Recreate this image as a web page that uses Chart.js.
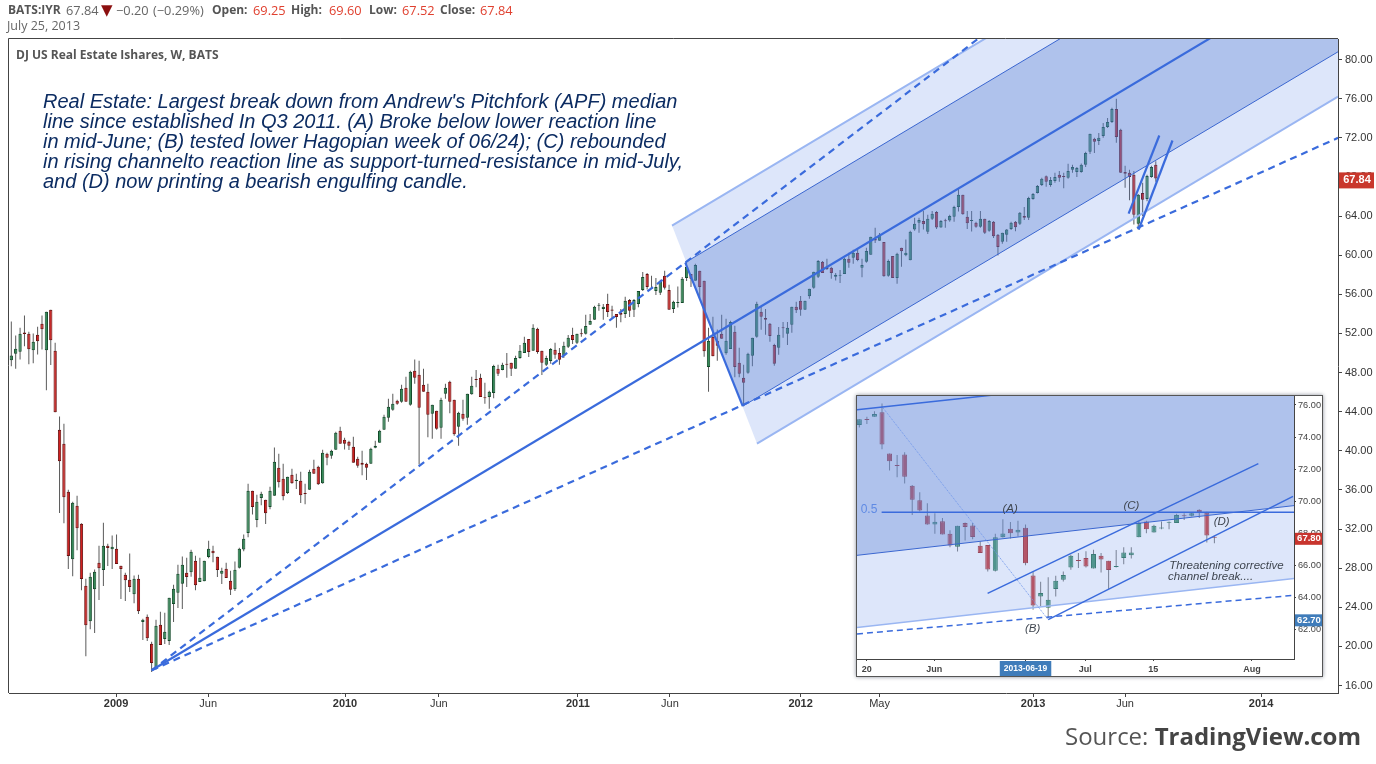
<!DOCTYPE html>
<html>
<head>
<meta charset="utf-8">
<title>BATS:IYR</title>
<script src="https://cdn.jsdelivr.net/npm/chart.js@4"></script>
<style>
  html, body { margin: 0; padding: 0; background: #fff; width: 1376px; height: 764px; overflow: hidden; }
  canvas { position: absolute; display: block; }
  #mainChart { left: 0; top: 0; }
  #insetChart { left: 857px; top: 396px; outline: 1.5px solid #555; box-shadow: 0 0 4px 1px #8a8f9a; background: #fff; }
  .txt { position: absolute; white-space: pre; }
  #quote { left: 0; top: 2px; font: 12.8px/16px "Open Sans", sans-serif; color: #666; }
  #quote span { position: absolute; top: 0; }
  #quote b { position: absolute; top: 0; font-size: 12px; color: #555; }
  #quote i { position: absolute; top: 0; font-style: normal; color: #e0402f; }
  #quoteDate { left: 7px; top: 18px; font: 12.5px/16px "Open Sans", sans-serif; color: #666; }
  #title { left: 16px; top: 47px; font: bold 12px/16px "Open Sans", sans-serif; color: #555; }
  #note { left: 43px; top: 91px; font: italic 20px/20px "Liberation Sans", sans-serif; color: #0c2c62; }
  #source { left: 1065px; top: 718px; font: 24px/36px "Open Sans", sans-serif; color: #555; }
  #source b { color: #444; }
</style>
</head>
<body>
<canvas id="mainChart" width="1376" height="764"></canvas>
<div class="txt" id="quote"><b style="left:8px">BATS:IYR</b><span style="left:66px">67.84</span><span style="left:101px;color:#8b0f0f;font:15px/16px 'DejaVu Sans'">&#9660;</span><span style="left:116px">&#8722;0.20</span><span style="left:153px">(&#8722;0.29%)</span><b style="left:212px">Open:</b><i style="left:253px">69.25</i><b style="left:291px">High:</b><i style="left:329px">69.60</i><b style="left:369px">Low:</b><i style="left:402px">67.52</i><b style="left:440px">Close:</b><i style="left:480px">67.84</i></div>
<div class="txt" id="quoteDate">July 25, 2013</div>
<div class="txt" id="title">DJ US Real Estate Ishares, W, BATS</div>
<div class="txt" id="note">Real Estate: Largest break down from Andrew's Pitchfork (APF) median
line since established In Q3 2011. (A) Broke below lower reaction line
in mid-June; (B) tested lower Hagopian week of 06/24); (C) rebounded
in rising channelto reaction line as support-turned-resistance in mid-July,
and (D) now printing a bearish engulfing candle.</div>
<canvas id="insetChart" width="465" height="280"></canvas>
<div class="txt" id="source">Source: <b>TradingView.com</b></div>
<script>
// weekly candles
const opens = [
  49.27,49.92,50.12,52.10,51.96,50.29,51.86,52.98,50.29,54.41,
  50.22,42.14,40.71,35.81,28.92,34.37,32.53,26.20,22.58,25.85,
  28.55,27.80,30.29,29.94,29.98,28.24,27.32,26.81,25.34,26.91,
  22.48,23.03,20.27,17.88,22.21,20.74,20.54,24.32,25.48,26.40,
  27.52,27.59,28.75,26.57,26.67,29.13,29.77,29.16,27.42,27.93,
  26.71,25.85,28.04,29.91,31.58,35.91,32.91,35.16,34.99,34.24,
  35.40,38.26,37.13,35.67,37.54,36.90,36.93,35.63,36.01,38.16,
  38.36,36.69,39.69,39.49,40.10,42.04,41.12,40.92,40.41,39.18,
  38.77,38.67,38.67,40.30,40.81,42.14,43.37,44.19,45.11,45.01,
  46.44,44.70,48.18,47.77,46.75,46.03,43.78,44.09,42.35,45.83,
  47.05,45.21,42.45,43.78,43.37,45.79,47.35,47.46,45.41,45.51,
  45.92,48.38,48.27,48.89,48.99,48.38,49.50,50.01,51.44,50.22,
  52.47,50.22,48.79,49.19,50.32,50.01,49.71,50.63,51.85,51.04,
  51.96,51.96,52.88,53.39,54.82,54.51,55.02,54.44,54.00,54.10,
  54.00,55.43,54.41,55.02,56.45,58.09,56.66,56.35,56.15,57.89,
  56.45,54.51,55.12,55.12,57.68,58.09,57.38,58.40,57.38,48.58,
  51.65,51.24,51.96,49.98,50.42,52.16,48.99,47.46,47.97,49.71,
  51.65,54.21,53.59,52.98,50.83,50.53,52.61,51.96,52.88,54.72,
  55.33,54.41,55.81,56.66,57.79,59.32,58.81,58.71,57.79,57.89,
  58.09,59.63,59.73,60.24,58.71,59.32,60.04,61.67,61.47,61.36,
  57.89,59.93,57.68,60.75,60.00,59.49,62.63,63.31,63.51,62.39,
  63.72,64.43,62.83,63.55,63.55,63.92,64.94,66.17,63.92,63.51,
  63.31,62.90,63.72,62.49,63.41,62.08,61.37,62.08,62.69,63.41,
  63.21,64.02,63.82,65.76,66.37,67.19,68.08,67.19,67.60,68.22,
  68.11,67.91,68.73,68.52,68.52,69.24,70.57,71.90,71.69,72.20,
  73.12,73.63,74.96,72.82,68.52,68.42,68.22,63.21,66.37,65.76,
  68.01,69.25
];
const highs = [
  53.22,51.79,52.57,53.83,52.16,51.99,52.68,53.83,54.21,54.41,
  51.04,43.51,42.76,36.01,34.78,35.40,32.60,26.91,27.52,27.87,
  30.29,32.64,30.49,31.34,31.44,28.24,27.52,29.50,27.25,27.32,
  22.82,23.26,20.47,22.72,23.54,23.43,24.97,26.30,28.34,29.19,
  29.06,29.88,29.26,29.06,28.75,30.80,30.29,29.16,28.04,28.55,
  27.73,28.68,30.08,31.44,36.62,35.91,35.50,35.80,34.99,36.32,
  40.34,39.69,38.67,37.34,38.16,37.65,37.85,36.62,38.05,39.08,
  38.46,40.10,39.79,40.10,41.94,42.45,41.33,41.02,41.43,39.38,
  40.00,38.77,40.30,41.02,42.14,43.68,45.31,45.83,45.21,46.75,
  47.56,48.18,49.34,49.20,48.38,46.85,44.70,44.09,45.42,46.85,
  47.15,45.21,43.98,45.21,45.83,47.56,48.27,47.87,46.95,46.13,
  48.79,48.79,48.99,50.01,48.99,49.71,50.83,51.65,51.44,52.94,
  52.57,50.22,49.71,50.52,51.04,50.52,51.14,51.85,52.57,51.96,
  52.47,53.90,54.00,54.82,55.12,55.02,56.05,54.82,54.00,54.51,
  55.74,55.53,55.53,56.35,58.29,58.19,57.89,57.68,57.48,58.40,
  56.97,55.33,56.79,57.78,59.21,58.09,59.12,58.40,57.38,52.57,
  53.70,52.40,53.90,53.49,53.29,52.78,50.53,48.79,50.02,51.55,
  55.23,54.72,54.51,53.08,50.94,52.67,53.18,53.18,54.72,55.23,
  55.84,55.33,56.56,58.30,59.52,59.42,59.63,58.81,58.19,58.50,
  59.73,60.24,60.55,60.65,59.63,60.75,61.88,62.80,62.28,61.36,
  59.56,59.93,60.24,60.75,61.60,62.49,63.82,63.82,64.53,64.13,
  64.53,64.53,63.61,63.72,64.13,65.05,66.78,66.17,64.53,64.53,
  63.41,64.53,63.72,63.61,63.51,62.18,62.29,62.69,63.41,63.51,
  64.43,64.94,65.97,66.37,67.19,67.91,68.15,68.01,68.42,68.62,
  68.42,69.34,69.24,69.03,69.37,70.57,72.41,72.00,72.51,73.53,
  74.04,75.07,75.99,72.92,69.14,68.73,68.62,66.27,67.40,68.22,
  69.14,69.60
];
const lows = [
  48.65,48.38,49.34,50.70,48.86,48.96,49.85,50.36,46.20,48.76,
  43.95,33.63,32.60,27.90,27.18,29.84,25.75,19.00,21.76,21.36,
  24.73,26.16,28.21,27.90,28.41,24.83,24.63,25.55,24.42,23.30,
  20.64,20.54,17.37,17.64,20.13,20.23,20.13,22.48,23.91,23.81,
  26.06,27.12,25.75,26.57,26.67,29.02,28.61,27.08,26.37,26.98,
  25.24,25.65,27.96,29.73,31.17,33.49,32.19,34.44,32.50,34.03,
  35.40,36.25,34.95,35.57,36.62,36.08,34.65,34.54,36.01,37.65,
  36.49,36.62,38.53,39.18,40.10,40.71,40.13,40.07,38.77,38.26,
  37.51,37.00,38.67,40.27,40.81,42.14,42.96,44.09,44.70,44.91,
  45.01,44.60,46.85,38.60,46.03,41.39,41.22,42.14,41.22,45.31,
  43.85,41.53,40.51,43.06,42.66,45.72,46.50,45.51,44.80,44.29,
  45.38,47.66,48.24,47.46,47.66,48.38,49.40,50.01,49.60,50.22,
  49.91,47.76,48.68,48.89,49.40,48.79,49.50,50.52,50.93,50.93,
  51.65,51.89,52.88,53.39,54.31,53.39,53.69,53.59,52.57,53.15,
  53.59,53.69,53.69,54.68,56.35,56.49,56.56,55.94,55.94,56.49,
  54.41,54.10,54.65,55.12,57.37,56.76,57.38,55.64,49.61,46.03,
  49.67,49.20,51.45,49.81,50.42,47.53,47.53,44.56,47.87,48.65,
  51.55,52.37,51.86,51.14,48.69,49.81,51.55,50.83,52.06,54.10,
  53.80,54.41,55.54,56.56,57.68,58.19,58.50,57.58,57.41,57.17,
  58.09,58.71,59.12,59.39,57.75,59.22,60.04,61.26,61.47,57.79,
  57.79,57.68,57.07,58.81,59.90,59.49,62.49,62.29,62.63,62.18,
  63.61,62.69,62.80,62.80,63.41,63.41,64.47,64.13,62.69,62.42,
  62.80,62.80,62.18,62.39,61.77,59.97,61.16,61.37,62.59,62.46,
  63.10,63.61,63.61,65.66,66.31,67.09,66.99,66.99,67.40,67.50,
  66.85,67.81,68.42,68.01,68.42,69.03,70.36,70.46,71.28,72.00,
  73.02,73.53,71.49,68.42,66.89,65.63,63.14,62.63,64.02,65.52,
  67.91,67.52
];
const closes = [
  49.74,50.43,51.96,51.93,50.39,51.14,51.21,52.44,54.21,51.31,
  43.95,38.94,35.26,29.23,34.68,32.09,26.88,22.17,27.12,27.63,
  28.00,30.29,30.05,30.18,28.41,27.90,26.77,26.06,26.91,23.60,
  22.72,20.84,18.29,22.11,20.13,21.49,24.97,25.89,27.42,28.34,
  27.08,29.67,26.26,27.01,28.75,29.98,29.53,27.80,27.73,26.98,
  25.79,27.83,29.98,31.00,35.91,34.24,34.78,35.60,33.62,35.91,
  38.87,36.79,35.36,37.34,36.69,37.03,35.46,35.57,37.85,37.65,
  36.59,39.79,39.28,40.00,41.84,40.71,40.71,40.51,38.77,38.46,
  38.57,38.26,40.20,40.51,42.04,43.47,44.50,44.80,44.80,46.34,
  45.01,48.07,47.46,44.39,46.03,43.68,44.70,42.25,45.21,46.44,
  45.01,41.70,43.88,43.27,45.83,46.64,47.25,45.51,45.38,46.03,
  48.68,47.87,48.79,48.79,48.38,49.50,50.22,51.04,50.11,52.57,
  50.11,48.99,49.50,50.42,49.81,49.30,50.73,51.55,51.34,51.96,
  51.92,52.77,53.28,54.72,54.92,54.72,54.20,54.31,53.69,53.90,
  55.33,54.31,55.43,56.35,57.78,56.76,56.56,56.76,57.37,56.66,
  54.41,55.23,55.19,57.58,58.81,57.58,59.01,56.76,50.19,51.24,
  49.67,50.73,51.45,51.24,53.18,48.58,47.87,46.95,49.91,51.55,
  55.03,53.70,53.39,51.75,48.89,51.86,52.54,52.57,54.72,54.38,
  54.41,55.33,56.56,58.30,59.42,58.19,58.60,58.19,57.99,57.99,
  59.63,59.22,60.24,59.52,59.01,60.44,61.88,61.50,62.08,57.85,
  59.42,57.68,60.14,60.41,60.24,62.39,63.21,63.61,63.17,63.72,
  64.23,62.83,63.51,63.48,64.02,64.94,66.17,64.19,63.27,63.61,
  62.90,63.72,62.29,63.51,61.94,60.85,62.29,62.63,63.31,62.87,
  64.33,63.82,65.86,66.27,67.09,67.81,67.50,67.70,68.01,67.91,
  68.01,68.62,69.03,68.93,69.24,70.46,72.41,71.59,72.00,73.12,
  73.63,74.96,72.10,68.42,68.32,68.01,64.13,66.17,65.66,68.11,
  69.03,67.84
];

const weekTicks = [24.9, 45.9, 77.1, 98.5, 130.2, 151.2, 181, 199, 234, 255, 286];
const weekTickLabels = ['2009', 'Jun', '2010', 'Jun', '2011', 'Jun', '2012', 'May', '2013', 'Jun', '2014'];
const priceTicks = [16, 20, 24, 28, 32, 36, 40, 44, 48, 52, 56, 60, 64, 68, 72, 76, 80];
const lastPrice = 67.84;
const lastPriceTagAt = 67.65;

// Andrew's Pitchfork anchors, week number and price
const outerWeeks = [151.67, 171.05, 303.55];
const outerUpperPrices = [63.03, 68.22, 103.7];
const outerLowerPrices = [63.03, 40.74, 76.22];
const innerWeeks = [154.7, 167.8, 303.55];
const innerUpperPrices = [59.25, 62.76, 99.11];
const innerLowerPrices = [59.25, 44.56, 80.8];
const medianWeeks = [33, 303.55];
const medianPrices = [17.55, 90];
const upperTineWeeks = [33, 230];
const upperTinePrices = [17.55, 85.05];
const lowerTineWeeks = [33, 303.55];
const lowerTinePrices = [17.55, 72];
const channelOneWeeks = [255.8, 262.8];
const channelOnePrices = [64.26, 72.24];
const channelTwoWeeks = [258.1, 265.8];
const channelTwoPrices = [62.63, 71.73];

// inset: daily candles
const insetOpens = [74.76,75.11,75.27,75.54,72.97,72.25,72.91,70.96,70.07,69.11,68.55,68.76,67.97,67.16,68.64,68.49,67.23,67.27,65.67,67.76,68.28,68.05,68.35,65.38,64.07,63.37,64.53,65.11,65.88,66.31,66.46,65.81,66.60,66.29,65.90,66.46,66.64,67.76,68.74,68.05,68.30,68.66,68.64,69.11,69.09,69.47,69.28,67.74];
const insetHighs = [75.11,75.27,75.61,76.10,72.97,72.89,73.05,71.02,70.56,69.88,69.26,68.95,68.20,68.47,68.68,68.64,67.49,67.27,67.97,68.88,68.70,68.78,68.55,65.63,64.98,65.27,65.36,65.63,66.66,66.77,66.89,66.98,66.77,66.29,66.96,67.14,67.14,68.74,68.78,68.53,68.74,68.74,69.22,69.26,69.30,69.51,69.34,67.85];
const insetLows = [74.59,74.82,75.27,73.24,71.91,71.50,71.10,69.15,69.36,68.53,67.97,67.93,67.14,66.87,67.56,67.64,66.77,65.63,65.63,67.74,67.68,67.81,66.02,63.24,63.45,62.72,64.07,65.00,65.73,65.84,65.88,65.81,65.56,64.53,65.88,66.08,66.44,67.76,68.01,68.05,68.26,68.26,68.64,68.84,69.05,68.95,67.43,67.39];
const insetCloses = [75.11,75.07,75.44,73.53,72.49,72.20,71.52,70.09,69.42,68.55,68.72,67.93,67.25,68.47,68.39,67.78,66.77,65.75,67.76,67.99,68.01,68.22,66.13,63.51,64.28,63.86,65.05,65.40,66.60,66.27,65.94,66.71,66.37,65.71,65.96,66.81,66.81,68.64,68.26,68.47,68.34,68.72,69.15,69.07,69.26,69.32,67.87,67.72];

const insetDayTicks = [1.97, 10.92, 23, 30.9, 39.9, 52.98];
const insetDayTickLabels = ['20', 'Jun', '2013-06-19', 'Jul', '15', 'Aug'];
const insetPriceTicks = [62, 64, 66, 68, 70, 72, 74, 76];

const insetBandDays = [0.69, 58.54];
const insetReactionPrices = [66.63, 69.73];
const insetOuterPrices = [62.13, 65.19];
const insetMedianDays = [0.69, 18.72];
const insetMedianPrices = [75.71, 76.62];
const insetTinePrices = [61.73, 64.14];
const insetChannelOneDays = [17.98, 53.82];
const insetChannelOnePrices = [64.26, 72.35];
const insetChannelTwoDays = [26, 58.41];
const insetChannelTwoPrices = [62.62, 70.3];
const insetDropDays = [4, 26];
const insetDropPrices = [75.9, 62.62];
const insetHalfDays = [3.95, 58.54];
const insetHalfPrices = [69.32, 69.32];

const insetNotes = ['0.5', '(A)', '(B)', '(C)', '(D)', 'Threatening corrective', 'channel break....'];
const insetNoteDays = [2.28, 20.97, 23.93, 37.02, 48.97, 49.6, 47.5];
const insetNotePrices = [69.47, 69.53, 62.08, 69.73, 68.7, 66.0, 65.3];
const insetTags = ['67.80', '62.70'];
const insetTagPrices = [67.66, 62.58];
const insetTagColors = ['#c8352e', '#3f7cba'];

const AXIS_COLOR = '#444';
const LINE_BLUE = '#3a6bdc';
const LIGHT_BLUE = '#9ab6f2';
const OUTER_FILL = 'rgba(85, 130, 230, 0.2)';
const INNER_FILL = 'rgba(90, 130, 210, 0.35)';
const MAIN_PALETTE = { up: '#348a58', upEdge: '#134a2a', down: '#d0201f', downEdge: '#6a1010', wick: '#5a5a5a' };
const INSET_PALETTE = { up: '#4f9a78', upEdge: '#367a5c', down: '#cc4a48', downEdge: '#a83a3a', wick: '#808080' };

function points(xs, ys) {
  return xs.map((x, i) => ({ x, y: ys[i] }));
}

function isDateTick(ctx) {
  return (insetDayTickLabels[ctx.index] || '').length > 5;
}

function candleSets(o, h, l, c, width, palette) {
  const isUp = o.map((value, i) => c[i] >= value);
  return [
    {
      type: 'bar',
      order: 100,
      grouped: false,
      data: o.map((value, i) => ({ x: i + 1, y: [l[i], h[i]] })),
      backgroundColor: palette.wick,
      barThickness: 1,
      borderWidth: 0,
      inflateAmount: 0,
    },
    {
      type: 'bar',
      order: 90,
      grouped: false,
      data: o.map((value, i) => ({ x: i + 1, y: [value, c[i]] })),
      backgroundColor: isUp.map((up) => (up ? palette.up : palette.down)),
      borderColor: isUp.map((up) => (up ? palette.upEdge : palette.downEdge)),
      borderWidth: 1,
      borderSkipped: false,
      barThickness: width,
      minBarLength: 1,
      inflateAmount: 0,
    },
  ];
}

function lineSet(data, color, width, order, extra) {
  return {
    type: 'line',
    data,
    order,
    borderColor: color,
    borderWidth: width,
    pointRadius: 0,
    tension: 0,
    fill: false,
    ...extra,
  };
}

const framePlugin = {
  id: 'frame',
  afterDraw(chart) {
    const { ctx, chartArea, scales } = chart;
    ctx.save();
    ctx.strokeStyle = AXIS_COLOR;
    ctx.lineWidth = 1;
    ctx.beginPath();
    ctx.moveTo(chartArea.left - 0.5, chartArea.bottom);
    ctx.lineTo(chartArea.left - 0.5, chartArea.top - 0.5);
    ctx.lineTo(chartArea.right, chartArea.top - 0.5);
    ctx.stroke();

    const y = scales.y.getPixelForValue(lastPriceTagAt);
    ctx.fillStyle = '#c9372c';
    ctx.fillRect(chartArea.right + 1, y - 8, 35, 16);
    ctx.fillStyle = '#fff';
    ctx.font = 'bold 11px "Liberation Sans", sans-serif';
    ctx.textAlign = 'center';
    ctx.textBaseline = 'middle';
    ctx.fillText(lastPrice.toFixed(2), chartArea.right + 19, y);
    ctx.restore();
  },
};

const insetNotesPlugin = {
  id: 'insetNotes',
  afterDatasetsDraw(chart) {
    const { ctx, scales } = chart;
    ctx.save();
    ctx.textAlign = 'center';
    ctx.textBaseline = 'middle';
    insetNotes.forEach((note, i) => {
      const isFib = note === '0.5';
      ctx.fillStyle = isFib ? '#5f8ae4' : '#3f4650';
      ctx.font = isFib ? '12px "Liberation Sans", sans-serif' : 'italic 11.5px "Liberation Sans", sans-serif';
      ctx.fillText(note, scales.x.getPixelForValue(insetNoteDays[i]), scales.y.getPixelForValue(insetNotePrices[i]));
    });
    ctx.restore();
  },
  afterDraw(chart) {
    const { ctx, chartArea, scales, width } = chart;
    ctx.save();
    ctx.textAlign = 'center';
    ctx.textBaseline = 'middle';
    ctx.font = 'bold 9.5px "Liberation Sans", sans-serif';
    insetTags.forEach((tag, i) => {
      const y = scales.y.getPixelForValue(insetTagPrices[i]);
      ctx.fillStyle = insetTagColors[i];
      ctx.fillRect(chartArea.right + 1, y - 6, width - chartArea.right - 1, 12);
      ctx.fillStyle = '#fff';
      ctx.fillText(tag, chartArea.right + 15, y);
    });
    ctx.restore();
  },
};

function renderMain() {
  const datasets = [
    ...candleSets(opens, highs, lows, closes, 3.3, MAIN_PALETTE),
    lineSet(points(outerWeeks, outerUpperPrices), LIGHT_BLUE, 2, 80, { fill: '+1', backgroundColor: OUTER_FILL }),
    lineSet(points(outerWeeks, outerLowerPrices), LIGHT_BLUE, 0, 81),
    lineSet(points(innerWeeks, innerUpperPrices), '#3a66d0', 1, 70, { fill: '+1', backgroundColor: INNER_FILL }),
    lineSet(points(innerWeeks, innerLowerPrices), LINE_BLUE, 0, 71),
    lineSet(points(outerWeeks.slice(1), outerLowerPrices.slice(1)), LIGHT_BLUE, 2, 60),
    lineSet(points(innerWeeks.slice(1), innerLowerPrices.slice(1)), '#3a66d0', 1, 50),
    lineSet(points(innerWeeks.slice(0, 2), innerLowerPrices.slice(0, 2)), LINE_BLUE, 2.2, 40),
    lineSet(points(medianWeeks, medianPrices), LINE_BLUE, 2.2, 30),
    lineSet(points(upperTineWeeks, upperTinePrices), LINE_BLUE, 2.2, 30, { borderDash: [7, 5] }),
    lineSet(points(lowerTineWeeks, lowerTinePrices), LINE_BLUE, 2.2, 30, { borderDash: [7, 5] }),
    lineSet(points(channelOneWeeks, channelOnePrices), LINE_BLUE, 2.2, 20),
    lineSet(points(channelTwoWeeks, channelTwoPrices), LINE_BLUE, 2.2, 20),
  ];

  new Chart(document.getElementById('mainChart'), {
    type: 'bar',
    data: { datasets },
    plugins: [framePlugin],
    options: {
      responsive: false,
      animation: false,
      layout: { padding: { left: 9, top: 39, right: 0, bottom: 0 } },
      plugins: { legend: { display: false }, tooltip: { enabled: false } },
      scales: {
        x: {
          type: 'linear',
          min: 0.475,
          max: 303.55,
          offset: false,
          afterFit(scale) { scale.height = 71; },
          afterBuildTicks(axis) { axis.ticks = weekTicks.map((value) => ({ value })); },
          grid: { drawOnChartArea: false, offset: false, tickLength: 4, color: AXIS_COLOR },
          border: { color: AXIS_COLOR },
          ticks: {
            autoSkip: false,
            maxRotation: 0,
            padding: 0,
            color: '#333',
            font: (ctx) => ({
              family: '"Liberation Sans", sans-serif',
              size: 11,
              weight: /^\d/.test(weekTickLabels[ctx.index]) ? 'bold' : 'normal',
            }),
            callback: (value, index) => weekTickLabels[index],
          },
        },
        y: {
          position: 'right',
          min: 15.23,
          max: 82.11,
          afterFit(scale) { scale.width = 38; },
          afterBuildTicks(axis) { axis.ticks = priceTicks.map((value) => ({ value })); },
          grid: { drawOnChartArea: false, tickLength: 4, color: AXIS_COLOR },
          border: { color: AXIS_COLOR },
          ticks: {
            padding: 3,
            color: '#333',
            font: { family: '"Liberation Sans", sans-serif', size: 11 },
            callback: (value) => value.toFixed(2),
          },
        },
      },
    },
  });
}

function renderInset() {
  const insetTop = 76.56;
  const datasets = [
    ...candleSets(insetOpens, insetHighs, insetLows, insetCloses, 5, INSET_PALETTE),
    lineSet(points(insetBandDays, insetOuterPrices), LIGHT_BLUE, 1.5, 80, { fill: { value: insetTop }, backgroundColor: OUTER_FILL }),
    lineSet(points(insetBandDays, insetReactionPrices), '#3a66d0', 1, 70, { fill: { value: insetTop }, backgroundColor: INNER_FILL }),
    lineSet(points(insetMedianDays, insetMedianPrices), LINE_BLUE, 1.5, 30),
    lineSet(points(insetBandDays, insetTinePrices), LINE_BLUE, 1.5, 30, { borderDash: [6, 4] }),
    lineSet(points(insetHalfDays, insetHalfPrices), LINE_BLUE, 1.5, 30),
    lineSet(points(insetDropDays, insetDropPrices), '#6f96ea', 1, 30, { borderDash: [1, 1] }),
    lineSet(points(insetChannelOneDays, insetChannelOnePrices), LINE_BLUE, 1.5, 20),
    lineSet(points(insetChannelTwoDays, insetChannelTwoPrices), LINE_BLUE, 1.5, 20),
  ];

  new Chart(document.getElementById('insetChart'), {
    type: 'bar',
    data: { datasets },
    plugins: [insetNotesPlugin],
    options: {
      responsive: false,
      animation: false,
      layout: { padding: 0 },
      plugins: { legend: { display: false }, tooltip: { enabled: false } },
      scales: {
        x: {
          type: 'linear',
          min: 0.69,
          max: 58.54,
          offset: false,
          afterFit(scale) {
            scale.height = 17;
            scale.paddingLeft = 0;
            scale.paddingRight = 0;
          },
          afterBuildTicks(axis) { axis.ticks = insetDayTicks.map((value) => ({ value })); },
          grid: { drawOnChartArea: false, offset: false, tickLength: 2, color: AXIS_COLOR },
          border: { color: AXIS_COLOR },
          ticks: {
            autoSkip: false,
            maxRotation: 0,
            padding: 3,
            color: (ctx) => (isDateTick(ctx) ? '#fff' : '#444'),
            showLabelBackdrop: (ctx) => isDateTick(ctx),
            backdropColor: '#3f7cba',
            backdropPadding: { left: 4, right: 4, top: 3, bottom: 3 },
            font: (ctx) => ({
              family: '"Liberation Sans", sans-serif',
              size: isDateTick(ctx) ? 8.5 : 9,
              weight: 'bold',
            }),
            callback: (value, index) => insetDayTickLabels[index],
          },
        },
        y: {
          position: 'right',
          min: 60.17,
          max: insetTop,
          afterFit(scale) {
            scale.width = 28;
            scale.paddingTop = 0;
            scale.paddingBottom = 0;
          },
          afterBuildTicks(axis) { axis.ticks = insetPriceTicks.map((value) => ({ value })); },
          grid: { drawOnChartArea: false, tickLength: 2, color: AXIS_COLOR },
          border: { color: AXIS_COLOR },
          ticks: {
            padding: 2,
            color: '#444',
            font: { family: '"Liberation Sans", sans-serif', size: 9.2 },
            callback: (value) => value.toFixed(2),
          },
        },
      },
    },
  });
}

renderMain();
renderInset();
</script>
</body>
</html>
